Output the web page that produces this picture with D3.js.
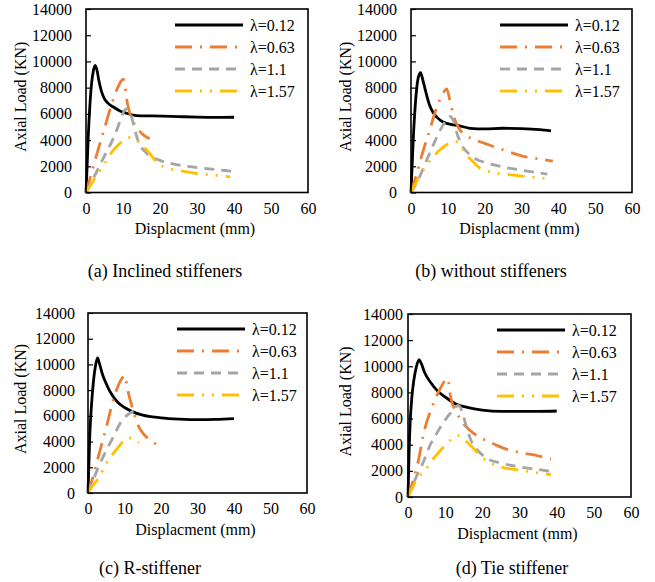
<!DOCTYPE html>
<html>
<head>
<meta charset="utf-8">
<script src="https://cdn.jsdelivr.net/npm/d3@7"></script>
<style>
  html, body { margin: 0; padding: 0; background: #fff; }
  svg { display: block; }
  text { font-family: 'Liberation Serif', 'Times New Roman', serif; fill: #000; }
</style>
</head>
<body>
<svg id="chart" width="655" height="582"></svg>
<script>
// Slenderness ratios shown in every panel
const lambdas = ["λ=0.12", "λ=0.63", "λ=1.1", "λ=1.57"];
const xTicks = [0, 10, 20, 30, 40, 50, 60];
const yTicks = [0, 2000, 4000, 6000, 8000, 10000, 12000, 14000];
const captions = ["(a) Inclined stiffeners", "(b) without stiffeners", "(c) R-stiffener", "(d) Tie stiffener"];

// Load–displacement curves, [displacement (mm), axial load (KN)]
// (a) Inclined stiffeners
const inclined012 = [[0,0],[0.3,2000],[0.6,4200],[1.0,6400],[1.5,8300],[2.0,9300],[2.5,9700],[3.0,9300],[3.5,8500],[4.2,7700],[5,7150],[6,6800],[7.4,6520],[9.2,6220],[11,6040],[13.7,5870],[18,5840],[25,5790],[30,5750],[35,5730],[40,5740]];
const inclined063 = [[0,0],[1,1000],[3,3000],[5,4900],[7,6800],[8.5,7950],[9.5,8500],[10.1,8650],[10.5,8300],[10.9,7300],[11.6,6300],[12.6,5500],[14,4850],[15.5,4400],[17.2,4100]];
const inclined110 = [[0,0],[3,1650],[5,2800],[7,3900],[8.5,4900],[9.5,5700],[10.5,6300],[11.1,6400],[12,6050],[13,5000],[14,4000],[16,3100],[18,2700],[20,2450],[25,2100],[30,1900],[35,1750],[40,1600]];
const inclined157 = [[0,0],[1,450],[3,1350],[5,2200],[7,3100],[9,3700],[10.5,4050],[12,4200],[13,4100],[15,3650],[17,3050],[19,2350],[21,1950],[25,1680],[30,1450],[35,1300],[39,1200]];

// (b) without stiffeners
const without012 = [[0,0],[0.3,2000],[0.6,4000],[1.0,6000],[1.5,7800],[2.0,8800],[2.6,9150],[3.2,8600],[4,7700],[5,6700],[6,6100],[8,5500],[10,5250],[13,5100],[16,4900],[20,4850],[25,4900],[30,4880],[35,4800],[38,4700]];
const without063 = [[0,0],[1,900],[3,2900],[5,4700],[7,6500],[8.5,7450],[9.7,7900],[10.5,7100],[11.5,5900],[13,4900],[15,4350],[18,3950],[20,3750],[25,3250],[30,2800],[35,2550],[38.5,2400]];
const without110 = [[0,0],[2,1000],[4,2300],[6,3600],[8,4800],[9.5,5500],[10.5,5800],[11.5,5500],[12.5,4500],[14,3500],[16,2900],[18,2500],[20,2300],[25,1950],[30,1700],[37,1400]];
const without157 = [[0,0],[2,1100],[4,2000],[6,2700],[8,3300],[10,3700],[12,3900],[13,3700],[15,2900],[17,2300],[19,1800],[22,1550],[27,1350],[32,1200],[37,1050]];

// (c) R-stiffener
const rStiff012 = [[0,0],[0.5,4600],[1.0,7000],[1.5,8700],[2.0,9800],[2.6,10500],[3.2,10000],[4,9200],[5,8500],[6,7900],[8,7100],[10,6650],[12,6350],[15,6050],[20,5850],[25,5750],[30,5700],[35,5720],[40,5780]];
const rStiff063 = [[0,0],[1,900],[3,3000],[5,5100],[7,7300],[8.5,8500],[9.5,9000],[10.1,9150],[10.6,8400],[11.5,7300],[12.5,6300],[14,5100],[15.5,4500],[17.5,4000],[20.5,3700]];
const rStiff110 = [[0,0],[1,700],[3,2100],[5,3300],[7,4400],[9,5500],[10.5,6000],[12,6300],[13,6450]];
const rStiff157 = [[0,0],[1,450],[3,1200],[5,2300],[7,3100],[9,3800],[10,4150],[11,4280],[12,4250],[14,3900]];

// (d) Tie stiffener
const tie012 = [[0,0],[0.3,3500],[0.6,5800],[1.0,7500],[1.5,8800],[2.2,9900],[3.0,10500],[3.6,10200],[4.5,9500],[6,8800],[8,8100],[10,7650],[13,7100],[16,6850],[20,6650],[25,6550],[30,6550],[35,6550],[40,6580]];
const tie063 = [[0,0],[1,900],[2.5,2400],[4.5,5200],[6.5,6900],[8.5,8200],[10,8900],[10.8,9050],[11.1,8300],[11.6,7500],[13,6500],[15,5600],[18,4800],[22,4200],[26,3700],[30,3400],[35,3150],[38.5,2900]];
const tie110 = [[0,0],[2,1400],[4,2600],[6,4000],[8,5000],[10,5900],[12,6600],[13.5,7000],[14.5,6600],[15.5,5600],[17,4300],[19,3500],[21,3000],[25,2600],[30,2300],[35,2100],[38.5,1950]];
const tie157 = [[0,0],[1,600],[2.5,1400],[4.5,2000],[6.5,2800],[8.5,3500],[10.5,4100],[12.5,4600],[13.5,4700],[15,4400],[17,3900],[19,3300],[21,2800],[25,2300],[30,2050],[35,1850],[38.5,1700]];

const panelSeries = [
  [inclined012, inclined063, inclined110, inclined157],
  [without012, without063, without110, without157],
  [rStiff012, rStiff063, rStiff110, rStiff157],
  [tie012, tie063, tie110, tie157]
];

// Line styles per slenderness ratio
const styles = [
  { color: "#000000", dash: null },
  { color: "#ED7D31", dash: "17,8,2,8" },
  { color: "#A5A5A5", dash: "10,7" },
  { color: "#FFC000", dash: "17,8,2,8,2,8" }
];

// Frame of each panel plot area and its text placement
const layout = [
  { left: 86,  right: 308, top: 9,   bottom: 192.5, tickGap: 14, yTitleX: 20,  capX: 165, capY: 271 },
  { left: 411, right: 632, top: 9,   bottom: 192.5, tickGap: 14, yTitleX: 345, capX: 491, capY: 271 },
  { left: 88,  right: 307, top: 313, bottom: 493,   tickGap: 13, yTitleX: 20,  capX: 150, capY: 568 },
  { left: 408, right: 631, top: 314, bottom: 497,   tickGap: 5,  yTitleX: 345, capX: 512, capY: 568 }
];

const svg = d3.select("#chart");

layout.forEach((L, p) => {
  const g = svg.append("g");
  const x = d3.scaleLinear().domain([0, 60]).range([L.left, L.right]);
  const y = d3.scaleLinear().domain([0, 14000]).range([L.bottom, L.top]);

  // y axis with inward ticks
  const ya = g.append("g")
    .attr("transform", `translate(${L.left},0)`)
    .call(d3.axisLeft(y).tickValues(yTicks).tickSize(-5).tickPadding(L.tickGap).tickFormat(d3.format("d")));
  ya.select(".domain").remove();
  ya.selectAll("line").attr("stroke", "#000").attr("stroke-width", 1.2);
  ya.selectAll("text").attr("font-size", 16);

  // x axis labels only
  const xa = g.append("g")
    .attr("transform", `translate(0,${L.bottom})`)
    .call(d3.axisBottom(x).tickValues(xTicks).tickSize(0).tickPadding(10));
  xa.select(".domain").remove();
  xa.selectAll("text").attr("font-size", 16);

  // curves
  const line = d3.line().x(d => x(d[0])).y(d => y(d[1])).curve(d3.curveMonotoneX);
  panelSeries[p].forEach((data, i) => {
    g.append("path")
      .datum(data)
      .attr("d", line)
      .attr("fill", "none")
      .attr("stroke", styles[i].color)
      .attr("stroke-width", 2.8)
      .attr("stroke-dasharray", styles[i].dash)
      .attr("stroke-linejoin", "round");
  });

  // plot frame
  g.append("rect")
    .attr("x", L.left).attr("y", L.top)
    .attr("width", L.right - L.left).attr("height", L.bottom - L.top)
    .attr("fill", "none").attr("stroke", "#000").attr("stroke-width", 1.6);

  // legend
  const lx = L.left + 89;
  lambdas.forEach((name, i) => {
    const ly = L.top + 16 + i * 22;
    g.append("line")
      .attr("x1", lx).attr("x2", lx + 68).attr("y1", ly).attr("y2", ly)
      .attr("stroke", styles[i].color).attr("stroke-width", 2.8)
      .attr("stroke-dasharray", styles[i].dash);
    g.append("text")
      .attr("x", lx + 75).attr("y", ly).attr("dy", "0.35em")
      .attr("font-size", 16).text(name);
  });

  // axis titles
  g.append("text")
    .attr("transform", `translate(${L.yTitleX},${(L.top + L.bottom) / 2 - 4}) rotate(-90)`)
    .attr("text-anchor", "middle").attr("dy", "0.35em")
    .attr("font-size", 16).text("Axial Load (KN)");
  g.append("text")
    .attr("x", (L.left + L.right) / 2 - 2).attr("y", L.bottom + 36)
    .attr("text-anchor", "middle").attr("dy", "0.35em")
    .attr("font-size", 16).text("Displacment (mm)");

  // caption
  g.append("text")
    .attr("x", L.capX).attr("y", L.capY)
    .attr("text-anchor", "middle").attr("dy", "0.35em")
    .attr("font-size", 18).text(captions[p]);
});
</script>
</body>
</html>
